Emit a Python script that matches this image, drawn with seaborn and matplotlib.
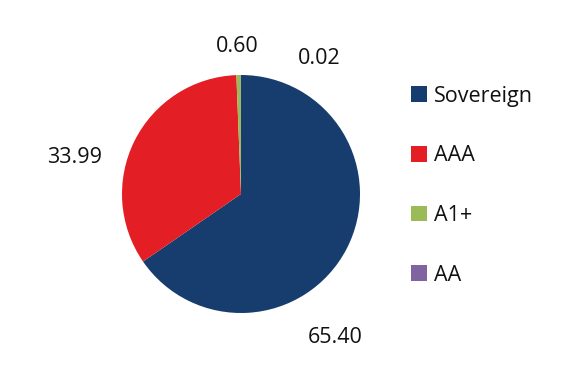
import matplotlib
matplotlib.use("Agg")
import matplotlib.pyplot as plt
from matplotlib.patches import Patch
import seaborn as sns

# data
ratings = ["Sovereign", "AAA", "A1+", "AA"]
shares = [65.40, 33.99, 0.60, 0.02]
colors = sns.color_palette(["#173c6e", "#e31e24", "#9bbb59", "#8064a2"])

# where the value labels sit (pie radius = 1)
label_pos = [(0.79, -1.21), (-1.40, 0.31), (-0.03, 1.24), (0.66, 1.14)]

sns.set_theme(style="white")
plt.rcParams["font.family"] = ["Open Sans", "DejaVu Sans"]

fig = plt.figure(figsize=(5.78, 3.84), dpi=100)
ax = fig.add_axes([122 / 578, 71 / 384, 238 / 578, 238 / 384])

wedges, _ = ax.pie(shares, colors=colors, startangle=90, counterclock=False,
                   radius=1, wedgeprops=dict(linewidth=0))
ax.set_xlim(-1, 1)
ax.set_ylim(-1, 1)
ax.set_aspect("equal")

for val, (x, y) in zip(shares, label_pos):
    ax.text(x, y, f"{val:.2f}", ha="center", va="center", fontsize=15.5,
            color="#111111", clip_on=False)

handles = [Patch(facecolor=c, edgecolor="none") for c in colors]
fig.legend(handles, ratings, loc="upper left", bbox_to_anchor=(402 / 578, 1 - 77 / 384),
           frameon=False, fontsize=15.5, handlelength=0.75, handleheight=0.75,
           handletextpad=0.35, labelspacing=1.8, borderaxespad=0,
           labelcolor="#111111")

fig.savefig("out.png", dpi=100)
